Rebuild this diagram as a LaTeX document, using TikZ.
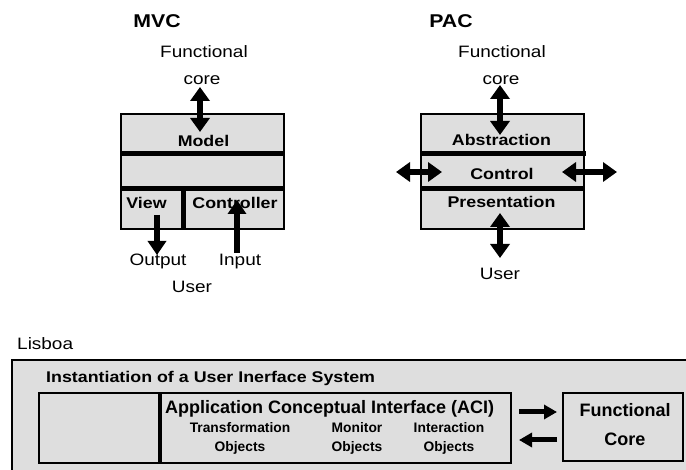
\documentclass[tikz,border=0pt]{standalone}
\usepackage{fontspec}
\setmainfont{Liberation Sans}[FakeStretch=1.15]
\newfontfamily\plainsf{Liberation Sans}
\usetikzlibrary{arrows.meta}
\definecolor{boxgrey}{HTML}{DEDEDE}
\tikzset{
  panel/.style={draw=black, fill=boxgrey, line width=1.6pt},
  divider/.style={draw=black, line width=5pt},
  fatarrow/.style={line width=5.5pt, {Triangle[width=19pt,length=14pt]}-{Triangle[width=19pt,length=14pt]}},
  fatone/.style={line width=5.5pt, -{Triangle[width=18pt,length=14pt]}},
  flatarrow/.style={line width=5pt, -{Triangle[width=14pt,length=13pt]}},
  title/.style={font=\fontsize{18.5}{20}\selectfont\bfseries, anchor=base, inner sep=0pt},
  lbl/.style={font=\fontsize{16.5}{18}\selectfont, anchor=base, inner sep=0pt},
  blbl/.style={font=\fontsize{15.5}{17}\selectfont\bfseries, anchor=base, inner sep=0pt},
  inst/.style={font=\fontsize{15.5}{17}\selectfont\bfseries, anchor=base west, inner sep=0pt},
  aci/.style={font=\plainsf\fontsize{18}{20}\selectfont\bfseries, anchor=base west, inner sep=0pt},
  small/.style={font=\plainsf\fontsize{13.8}{15}\selectfont\bfseries, anchor=base, inner sep=0pt},
  fc/.style={font=\plainsf\fontsize{18}{20}\selectfont\bfseries, anchor=base, inner sep=0pt},
}
\begin{document}
\begin{tikzpicture}[x=1pt,y=-1pt]
\useasboundingbox (0,0) rectangle (686,470);
\clip (0,0) rectangle (686,470);
\fill[white] (0,0) rectangle (686,470);

% ---------------- MVC ----------------
\node[title] (mvctitle) at (157,28) {MVC};
\node[lbl] (mvcfunc) at (204,58) {Functional};
\node[lbl] (mvccore) at (202,85) {core};
\draw[panel] (121,114) rectangle (284,229);
\draw[divider] (121,154) -- (284,154);
\draw[divider] (121,189) -- (284,189);
\draw[divider] (183,189) -- (183,229);
\node[blbl] (model) at (203.5,147) {Model};
\node[blbl] (view) at (146.5,209) {View};
\node[blbl] (controller) at (235,209) {Controller};
\node[lbl] (output) at (158,266) {Output};
\node[lbl] (input) at (240,266) {Input};
\node[lbl] (mvcuser) at (192,293) {User};
\coordinate (m1) at (200,87);
\coordinate (m2) at (200,132);
\draw[fatarrow] (m1) -- (m2);
\coordinate (v1) at (157,215);
\coordinate (v2) at (157,255);
\draw[fatone] (v1) -- (v2);
\coordinate (c1) at (237,253);
\coordinate (c2) at (237,200);
\draw[fatone] (c1) -- (c2);

% ---------------- PAC ----------------
\node[title] (pactitle) at (451,28) {PAC};
\node[lbl] (pacfunc) at (502,58) {Functional};
\node[lbl] (paccore) at (501,85) {core};
\draw[panel] (421,114) rectangle (584,229);
\draw[divider] (421,154) -- (586,154);
\draw[divider] (421,189) -- (584,189);
\node[blbl] (abstraction) at (501.5,146) {Abstraction};
\node[blbl] (control) at (502,180) {Control};
\node[blbl] (presentation) at (501.5,208) {Presentation};
\node[lbl] (pacuser) at (500,280) {User};
\coordinate (p1) at (500,85);
\coordinate (p2) at (500,135);
\draw[fatarrow] (p1) -- (p2);
\coordinate (l1) at (396,172);
\coordinate (l2) at (442,172);
\draw[fatarrow] (l1) -- (l2);
\coordinate (r1) at (562,172);
\coordinate (r2) at (617,172);
\draw[fatarrow] (r1) -- (r2);
\coordinate (b1) at (500,213);
\coordinate (b2) at (500,258);
\draw[fatarrow] (b1) -- (b2);

% ---------------- Lisboa ----------------
\node[lbl, anchor=base west] (lisboa) at (17,350) {Lisboa};
\draw[draw=black, fill=boxgrey, line width=2pt] (12,360) rectangle (720,500);
\node[inst] (instan) at (46,383) {Instantiation of a User Inerface System};
\draw[draw=black, fill=boxgrey, line width=2.2pt] (39,393) rectangle (511,463);
\draw[line width=4.5pt] (160,393) -- (160,463);
\node[aci] (aci) at (165,414) {Application Conceptual Interface (ACI)};
\node[small] (trans) at (240,433) {Transformation};
\node[small] (transo) at (240,451) {Objects};
\node[small] (mon) at (357,433) {Monitor};
\node[small] (mono) at (357,451) {Objects};
\node[small] (inter) at (449,433) {Interaction};
\node[small] (intero) at (449,451) {Objects};
\draw[draw=black, fill=boxgrey, line width=2.2pt] (563,393) rectangle (683,461);
\node[fc] (fcf) at (625,417) {Functional};
\node[fc] (fcc) at (625,446) {Core};
\coordinate (a1) at (519,412);
\coordinate (a2) at (557,412);
\draw[flatarrow] (a1) -- (a2);
\coordinate (a3) at (557,440);
\coordinate (a4) at (519,440);
\draw[flatarrow] (a3) -- (a4);
\end{tikzpicture}
\end{document}
